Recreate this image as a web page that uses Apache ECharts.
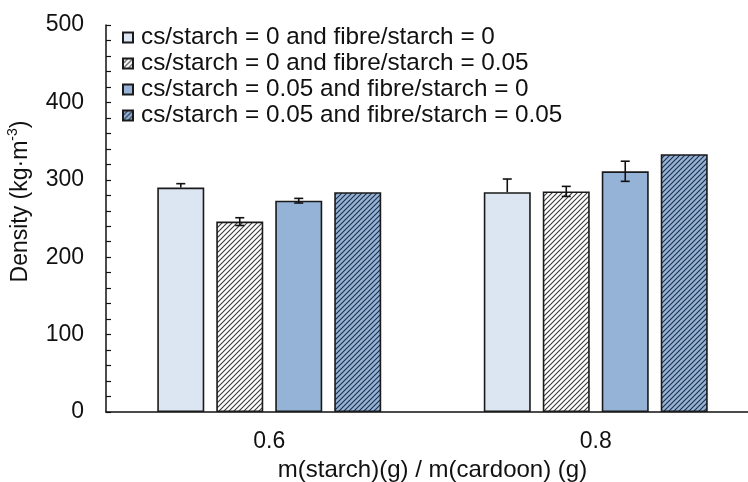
<!DOCTYPE html>
<html>
<head>
<meta charset="utf-8">
<script src="https://cdn.jsdelivr.net/npm/echarts@6/dist/echarts.min.js"></script>
<style>
html,body{margin:0;padding:0;background:#fff;}
#chart{width:748px;height:482px;}
</style>
</head>
<body>
<div id="chart"></div>
<script>
const categories = ['0.6', '0.8'];
const seriesNames = [
  'cs/starch = 0 and fibre/starch = 0',
  'cs/starch = 0 and fibre/starch = 0.05',
  'cs/starch = 0.05 and fibre/starch = 0',
  'cs/starch = 0.05 and fibre/starch = 0.05'
];
const s1 = [290, 284];
const s2 = [246, 285];
const s3 = [273, 311];
const s4 = [284, 333];
// error bar half-lengths (upper / lower)
const e1Up = [5, 17];   const e1Down = [0, 0];
const e2Up = [5, 6.5];  const e2Down = [5, 6.5];
const e3Up = [3, 13];   const e3Down = [3, 13];
const e4Up = [0, 0];    const e4Down = [0, 0];
const yTicks = [0, 100, 200, 300, 400, 500];

function hatch(bg, fg, size, lw) {
  const c = document.createElement('canvas');
  c.width = size; c.height = size;
  const g = c.getContext('2d');
  g.fillStyle = bg; g.fillRect(0, 0, size, size);
  g.strokeStyle = fg; g.lineWidth = lw;
  g.beginPath();
  g.moveTo(-1, size + 1); g.lineTo(size + 1, -1);
  g.moveTo(-1, 1); g.lineTo(1, -1);
  g.moveTo(size - 1, size + 1); g.lineTo(size + 1, size - 1);
  g.stroke();
  return c;
}

const values = [s1, s2, s3, s4];
const ups = [e1Up, e2Up, e3Up, e4Up];
const downs = [e1Down, e2Down, e3Down, e4Down];
const fills = [
  '#dce6f2',
  {image: hatch('#ffffff', '#3a3a3a', 5, 1.1), repeat: 'repeat'},
  '#95b3d7',
  {image: hatch('#95b3d7', '#1e2d45', 5, 1.1), repeat: 'repeat'}
];
const BAR_W = 47, BAR_GAP = '25.5%';

const barSeries = values.map((v, i) => ({
  name: seriesNames[i],
  type: 'bar',
  data: v,
  barWidth: BAR_W,
  barGap: BAR_GAP,
  itemStyle: {color: fills[i], borderColor: '#1a1a1a', borderWidth: 1.6},
  emphasis: {disabled: true},
  z: 2
}));

const errData = [];
values.forEach((v, si) => v.forEach((val, ci) => {
  if (ups[si][ci] > 0 || downs[si][ci] > 0) errData.push([ci, val, ups[si][ci], downs[si][ci], si]);
}));

const errSeries = {
  type: 'custom',
  name: 'err',
  z: 5,
  silent: true,
  data: errData,
  encode: {x: 0, y: 1},
  renderItem: function (params, api) {
    const ci = api.value(0), val = api.value(1), up = api.value(2), dn = api.value(3), si = api.value(4);
    const layout = api.barLayout({count: 4, barWidth: BAR_W, barGap: BAR_GAP});
    const base = api.coord([ci, val]);
    const x = base[0] + layout[si].offsetCenter;
    const yTop = api.coord([ci, val + up])[1];
    const yBot = api.coord([ci, val - dn])[1];
    const cap = 4.5;
    const style = {stroke: '#111', lineWidth: 1.6, fill: null};
    const children = [
      {type: 'line', shape: {x1: x, y1: yTop, x2: x, y2: yBot}, style: style},
      {type: 'line', shape: {x1: x - cap, y1: yTop, x2: x + cap, y2: yTop}, style: style}
    ];
    if (dn > 0) children.push({type: 'line', shape: {x1: x - cap, y1: yBot, x2: x + cap, y2: yBot}, style: style});
    return {type: 'group', children: children};
  }
};

const chart = echarts.init(document.getElementById('chart'));
chart.setOption({
  animation: false,
  textStyle: {fontFamily: 'Liberation Sans, Arial, sans-serif', color: '#111'},
  grid: {left: 106, top: 25, bottom: 70, width: 653, outerBoundsMode: 'none', containLabel: false},
  legend: {
    data: seriesNames,
    orient: 'vertical',
    left: 122, top: 25,
    padding: 0,
    itemWidth: 10, itemHeight: 10,
    itemGap: 1,
    icon: 'rect',
    textStyle: {fontSize: 24.3, color: '#111', lineHeight: 25, padding: [0, 0, 0, 3]},
    selectedMode: false
  },
  xAxis: {
    type: 'category',
    data: categories,
    name: 'm(starch)(g) / m(cardoon) (g)',
    nameLocation: 'middle',
    nameGap: 44,
    nameTextStyle: {fontSize: 24, color: '#111'},
    axisLine: {lineStyle: {color: '#111', width: 1.5}},
    axisTick: {inside: true, length: 5, lineStyle: {color: '#111', width: 1.5}},
    axisLabel: {fontSize: 23, color: '#111', margin: 18}
  },
  yAxis: {
    type: 'value',
    min: 0, max: 500, interval: 20,
    name: 'Density (kg·m{sup|-3})',
    nameLocation: 'middle',
    nameGap: 70,
    nameTextStyle: {
      fontSize: 23, color: '#111', padding: [0, 0, 0, 34],
      rich: {sup: {fontSize: 14, verticalAlign: 'top', lineHeight: 30, color: '#111'}}
    },
    splitLine: {show: false},
    axisLine: {show: true, lineStyle: {color: '#111', width: 1.5}},
    axisTick: {show: true, inside: true, length: 5, lineStyle: {color: '#111', width: 1.2}},
    axisLabel: {
      fontSize: 23, color: '#111', margin: 22,
      formatter: function (v) { return yTicks.indexOf(v) >= 0 ? String(v) : ''; }
    }
  },
  series: barSeries.concat([errSeries])
});
</script>
</body>
</html>
